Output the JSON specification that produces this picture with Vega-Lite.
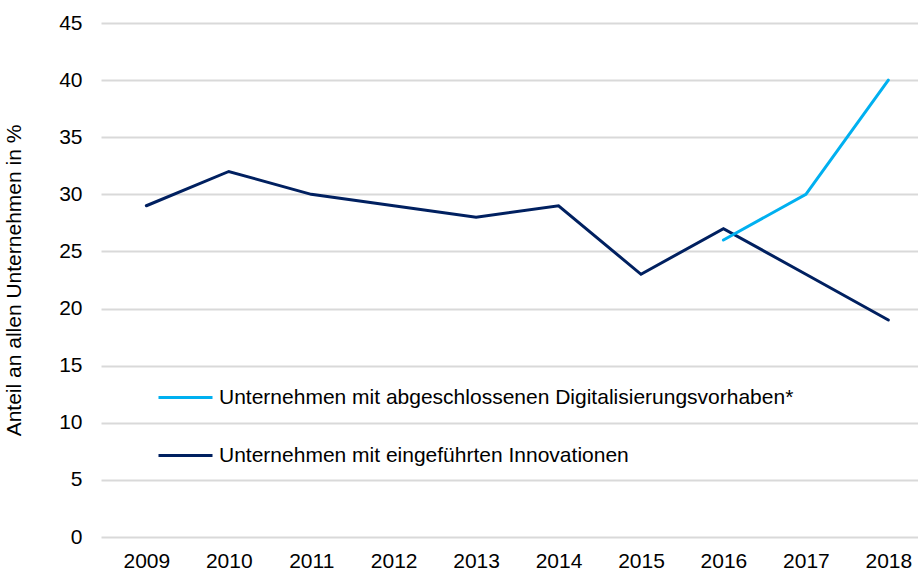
{
  "$schema": "https://vega.github.io/schema/vega-lite/v6.json",
  "autosize": {"type": "none"},
  "padding": {"left": 101, "top": 23, "right": 0, "bottom": 35},
  "width": 817,
  "height": 514,
  "background": "white",
  "config": {
    "view": {"stroke": null},
    "font": "Liberation Sans"
  },
  "data": {
    "values": [
      {"year": 2009, "value": 29, "series": "Unternehmen mit eingeführten Innovationen"},
      {"year": 2010, "value": 32, "series": "Unternehmen mit eingeführten Innovationen"},
      {"year": 2011, "value": 30, "series": "Unternehmen mit eingeführten Innovationen"},
      {"year": 2012, "value": 29, "series": "Unternehmen mit eingeführten Innovationen"},
      {"year": 2013, "value": 28, "series": "Unternehmen mit eingeführten Innovationen"},
      {"year": 2014, "value": 29, "series": "Unternehmen mit eingeführten Innovationen"},
      {"year": 2015, "value": 23, "series": "Unternehmen mit eingeführten Innovationen"},
      {"year": 2016, "value": 27, "series": "Unternehmen mit eingeführten Innovationen"},
      {"year": 2017, "value": 23, "series": "Unternehmen mit eingeführten Innovationen"},
      {"year": 2018, "value": 19, "series": "Unternehmen mit eingeführten Innovationen"},
      {"year": 2016, "value": 26, "series": "Unternehmen mit abgeschlossenen Digitalisierungsvorhaben*"},
      {"year": 2017, "value": 30, "series": "Unternehmen mit abgeschlossenen Digitalisierungsvorhaben*"},
      {"year": 2018, "value": 40, "series": "Unternehmen mit abgeschlossenen Digitalisierungsvorhaben*"}
    ]
  },
  "mark": {"type": "line", "strokeWidth": 3, "strokeCap": "round", "strokeJoin": "miter"},
  "encoding": {
    "x": {
      "field": "year",
      "type": "quantitative",
      "scale": {"domain": [2008.45, 2018.36], "nice": false, "zero": false},
      "axis": {
        "values": [2009, 2010, 2011, 2012, 2013, 2014, 2015, 2016, 2017, 2018],
        "format": "d",
        "title": null,
        "grid": false,
        "domain": false,
        "ticks": false,
        "labelFontSize": 21,
        "labelColor": "#000000",
        "labelPadding": 13,
        "labelFlush": false
      }
    },
    "y": {
      "field": "value",
      "type": "quantitative",
      "scale": {"domain": [0, 45], "nice": false},
      "axis": {
        "values": [0, 5, 10, 15, 20, 25, 30, 35, 40, 45],
        "title": "Anteil an allen Unternehmen in %",
        "titleFontSize": 21,
        "titleFontWeight": "normal",
        "titleColor": "#000000",
        "titlePadding": 34,
        "grid": true,
        "gridColor": "#D9D9D9",
        "gridWidth": 2,
        "domain": false,
        "ticks": false,
        "labelFontSize": 21,
        "labelColor": "#000000",
        "labelPadding": 19
      }
    },
    "color": {
      "field": "series",
      "type": "nominal",
      "scale": {
        "domain": ["Unternehmen mit abgeschlossenen Digitalisierungsvorhaben*", "Unternehmen mit eingeführten Innovationen"],
        "range": ["#00B0F0", "#002060"]
      },
      "legend": {
        "title": null,
        "orient": "none",
        "legendX": 56,
        "legendY": 346,
        "symbolType": "stroke",
        "symbolSize": 2916,
        "symbolStrokeWidth": 3,
        "labelFontSize": 21,
        "labelColor": "#000000",
        "labelOffset": 5,
        "labelLimit": 800,
        "rowPadding": 19
      }
    }
  }
}
